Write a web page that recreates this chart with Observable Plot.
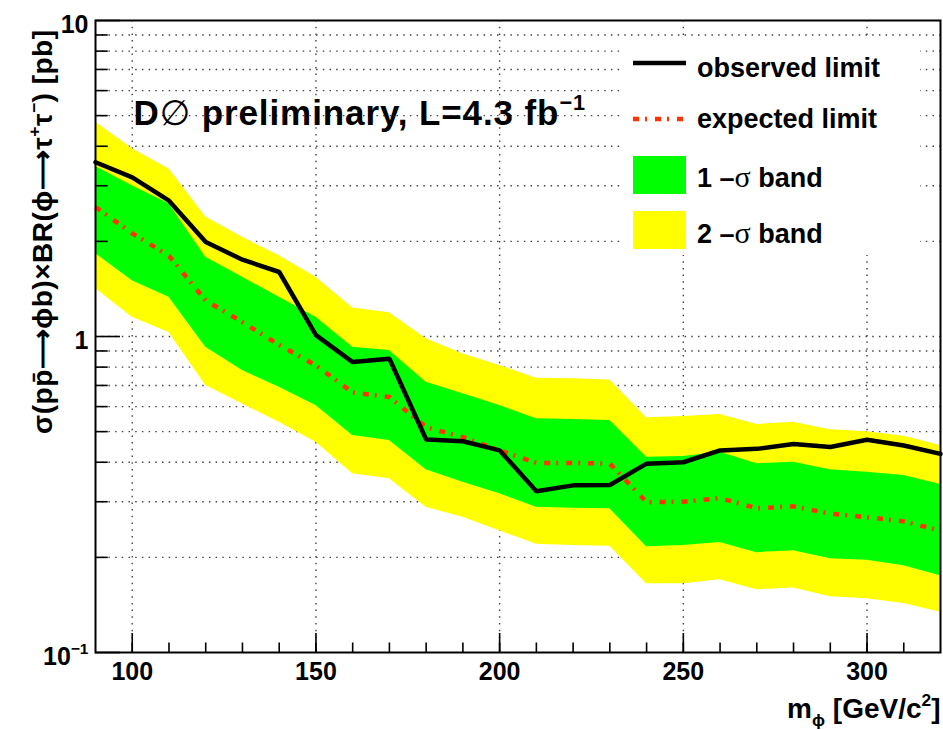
<!DOCTYPE html>
<html><head><meta charset="utf-8">
<script src="https://cdn.jsdelivr.net/npm/d3@7"></script>
<script src="https://cdn.jsdelivr.net/npm/@observablehq/plot@0.6"></script>
<style>body{margin:0;background:#fff} svg{display:block}</style>
</head><body><div id="chart"></div>
<script>
// ---- data ----
const masses   = [90,100,110,120,130,140,150,160,170,180,190,200,210,220,230,240,250,260,270,280,290,300,310,320];
const observed = [3.56,3.19,2.69,1.99,1.75,1.60,1.01,0.83,0.85,0.472,0.466,0.436,0.324,0.338,0.339,0.396,0.400,0.436,0.441,0.457,0.447,0.471,0.452,0.425];
const expected = [2.57,2.12,1.80,1.30,1.11,0.94,0.81,0.665,0.643,0.516,0.480,0.436,0.398,0.398,0.396,0.299,0.300,0.308,0.286,0.290,0.275,0.268,0.260,0.243];
const band1Hi  = [3.45,3.00,2.63,1.78,1.54,1.33,1.15,0.925,0.903,0.717,0.659,0.605,0.549,0.546,0.542,0.415,0.417,0.430,0.396,0.400,0.379,0.372,0.363,0.340];
const band1Lo  = [1.83,1.50,1.33,0.925,0.78,0.691,0.605,0.486,0.469,0.379,0.346,0.318,0.288,0.286,0.285,0.216,0.218,0.223,0.207,0.210,0.198,0.196,0.188,0.175];
const band2Hi  = [4.77,3.93,3.39,2.39,2.06,1.80,1.54,1.23,1.19,0.983,0.88,0.81,0.738,0.735,0.729,0.553,0.558,0.566,0.527,0.535,0.507,0.500,0.483,0.452];
const band2Lo  = [1.42,1.15,1.03,0.70,0.612,0.535,0.463,0.368,0.355,0.288,0.268,0.243,0.220,0.218,0.217,0.165,0.165,0.170,0.158,0.160,0.150,0.148,0.143,0.134];

const xMajorTicks = [100,150,200,250,300];
const xMinorTicks = [100,110,120,130,140,150,160,170,180,190,200,210,220,230,240,250,260,270,280,290,300,310];
const yMajorTicks = [0.1,1,10];
const yMinorTicks = [0.2,0.3,0.4,0.5,0.6,0.7,0.8,0.9,2,3,4,5,6,7,8,9];
const yGridLines  = [0.2,0.3,0.4,0.5,0.6,0.7,0.8,0.9,1,2,3,4,5,6,7,8,9];
const yTickLabels = ["10^{−1}","1","10"];

const titleText  = "D∅ preliminary, L=4.3 fb^{−1}";
const xTitle     = "m_{ϕ} [GeV/c^{2}]";
const yTitle     = "σ(pp̄⟶ϕb)×BR(ϕ⟶τ^{+}τ^{−}) [pb]";
const legendLabels = ["observed limit","expected limit","1 –σ band","2 –σ band"];

const rows = masses.map((m,i)=>({m, obs:observed[i], exp:expected[i],
  lo1:band1Lo[i], hi1:band1Hi[i], lo2:band2Lo[i], hi2:band2Hi[i]}));

// ---- layout ----
const W=943, H=730, mL=95, mR=3, mT=20, mB=78;
const plotW=W-mL-mR, plotH=H-mT-mB;
const FONT="'Liberation Sans', Arial, Helvetica, sans-serif";
const RED="#ff3300", GREEN="#00ff00", YELLOW="#ffff00";
const DASHDOT="6,6,2,8";
const GRID={stroke:"#444", strokeWidth:1.4, strokeDasharray:"1.5,5.2"};

const chart = Plot.plot({
  width:W, height:H, marginLeft:mL, marginRight:mR, marginTop:mT, marginBottom:mB,
  x:{type:"linear", domain:[90,320], axis:null},
  y:{type:"log", domain:[0.1,10], axis:null},
  style:{fontFamily:FONT, background:"white", overflow:"visible"},
  marks:[
    Plot.ruleX(xMajorTicks, {x:d=>d, ...GRID}),
    Plot.ruleY(yGridLines, {y:d=>d, ...GRID}),
    Plot.areaY(rows, {x:"m", y1:"lo2", y2:"hi2", fill:YELLOW}),
    Plot.areaY(rows, {x:"m", y1:"lo1", y2:"hi1", fill:GREEN}),
    Plot.lineY(rows, {x:"m", y:"exp", stroke:RED, strokeWidth:4.5, strokeDasharray:DASHDOT, strokeLinecap:"butt"}),
    Plot.lineY(rows, {x:"m", y:"obs", stroke:"black", strokeWidth:4.5, strokeLinejoin:"miter"}),
    // inward ticks
    Plot.ruleX(xMajorTicks, {x:d=>d, insetTop:plotH-19, stroke:"black", strokeWidth:1.6}),
    Plot.ruleX(xMinorTicks, {x:d=>d, insetTop:plotH-9.5, stroke:"black", strokeWidth:1.6}),
    Plot.ruleY(yMajorTicks, {y:d=>d, insetRight:plotW-25, stroke:"black", strokeWidth:1.6}),
    Plot.ruleY(yMinorTicks, {y:d=>d, insetRight:plotW-12.7, stroke:"black", strokeWidth:1.6}),
    Plot.frame({stroke:"black", strokeWidth:2}),
    // tick labels
    Plot.text(xMajorTicks, {x:d=>d, text:d=>String(d), frameAnchor:"bottom", lineAnchor:"top",
      dy:10, fontSize:25, fontWeight:"bold", fill:"black"}),
    Plot.text(yMajorTicks, {y:d=>d, text:(d,i)=>yTickLabels[i], frameAnchor:"left", textAnchor:"end",
      lineAnchor:"middle", dx:-7, dy:4, fontSize:25, fontWeight:"bold", fill:"black", className:"ylab"}),
    // axis titles
    Plot.text([xTitle], {text:d=>d, frameAnchor:"bottom-right", textAnchor:"end", lineAnchor:"bottom",
      dy:65, fontSize:28, fontWeight:"bold", fill:"black", className:"xtitle"}),
    Plot.text([yTitle], {text:d=>d, frameAnchor:"top-left", textAnchor:"end", lineAnchor:"bottom",
      rotate:-90, dx:-44, dy:9, fontSize:28, fontWeight:"bold", fill:"black", className:"ytitle"}),
    // plot title
    Plot.text([titleText], {text:d=>d, frameAnchor:"top-left", textAnchor:"start", lineAnchor:"bottom",
      dx:38, dy:104, fontSize:35, fontWeight:"bold", fill:"black", className:"ptitle"})
  ]
});
document.getElementById("chart").appendChild(chart);

// ---- rich text: ^{sup} _{sub} ----
function parse(str){
  const re=/\^\{([^}]*)\}|_\{([^}]*)\}|([^\^_]+)/g; const out=[]; let m;
  while((m=re.exec(str))){ if(m[1]!==undefined) out.push({t:m[1],sup:1}); else if(m[2]!==undefined) out.push({t:m[2],sub:1}); else out.push({t:m[3]}); }
  return out;
}
function rich(node, segs, fs){
  const t=d3.select(node); t.text(null); let shift=0;
  segs.forEach(s=>{
    const sp=t.append("tspan").text(s.t);
    const target = s.sup ? -0.42*fs : s.sub ? 0.3*fs : 0;
    if(target!==shift){ sp.attr("dy", target-shift); shift=target; }
    if(s.sup||s.sub) sp.attr("font-size", fs*0.62);
    if(s.w) sp.attr("font-weight", s.w);
    if(s.f) sp.attr("font-family", s.f);
  });
}
const svg=d3.select(chart);
svg.selectAll("g.ylab text").each(function(){ rich(this, parse(this.textContent), 25); });
svg.selectAll("g.xtitle text").each(function(){ rich(this, parse(this.textContent), 28); });
svg.selectAll("g.ytitle text").each(function(){ rich(this, parse(this.textContent), 28); d3.select(this).attr("letter-spacing", 0.5); });
svg.selectAll("g.ptitle text").each(function(){
  const segs=parse(this.textContent);
  const first=segs[0].t;
  const newSegs=[{t:first[0]},{t:first[1], w:"normal", f:"'DejaVu Sans', sans-serif"},{t:first.slice(2)}].concat(segs.slice(1));
  rich(this, newSegs, 35);
  d3.select(this).attr("letter-spacing", 0.9);
});

// ---- legend (ROOT-style box, white fill) ----
const lg=svg.append("g").attr("font-family",FONT).attr("font-weight","bold").attr("font-size",27).attr("text-anchor","start");
const lx=620, ly=37;
lg.append("rect").attr("x",lx).attr("y",ly).attr("width",300).attr("height",218).attr("fill","white");
const sx=lx+13, sw=53, tx=lx+77;
lg.append("line").attr("x1",sx).attr("x2",sx+sw).attr("y1",63).attr("y2",63).attr("stroke","black").attr("stroke-width",4.5);
lg.append("line").attr("x1",sx).attr("x2",sx+sw).attr("y1",119).attr("y2",119).attr("stroke",RED).attr("stroke-width",4.5).attr("stroke-dasharray",DASHDOT);
lg.append("rect").attr("x",sx).attr("y",156).attr("width",sw).attr("height",38).attr("fill",GREEN);
lg.append("rect").attr("x",sx).attr("y",211).attr("width",sw).attr("height",38).attr("fill",YELLOW);
const baselines=[77,128,187,243];
legendLabels.forEach((s,i)=>{
  const t=lg.append("text").attr("x",tx).attr("y",baselines[i]).attr("fill","black");
  if(s.includes("σ")){
    const [a,b]=s.split("σ");
    t.append("tspan").text(a);
    t.append("tspan").text("σ").attr("font-family","'Liberation Serif', 'Times New Roman', serif").attr("font-weight","normal").attr("font-size",30);
    t.append("tspan").text(b);
  } else t.text(s);
});
</script>
</body></html>
